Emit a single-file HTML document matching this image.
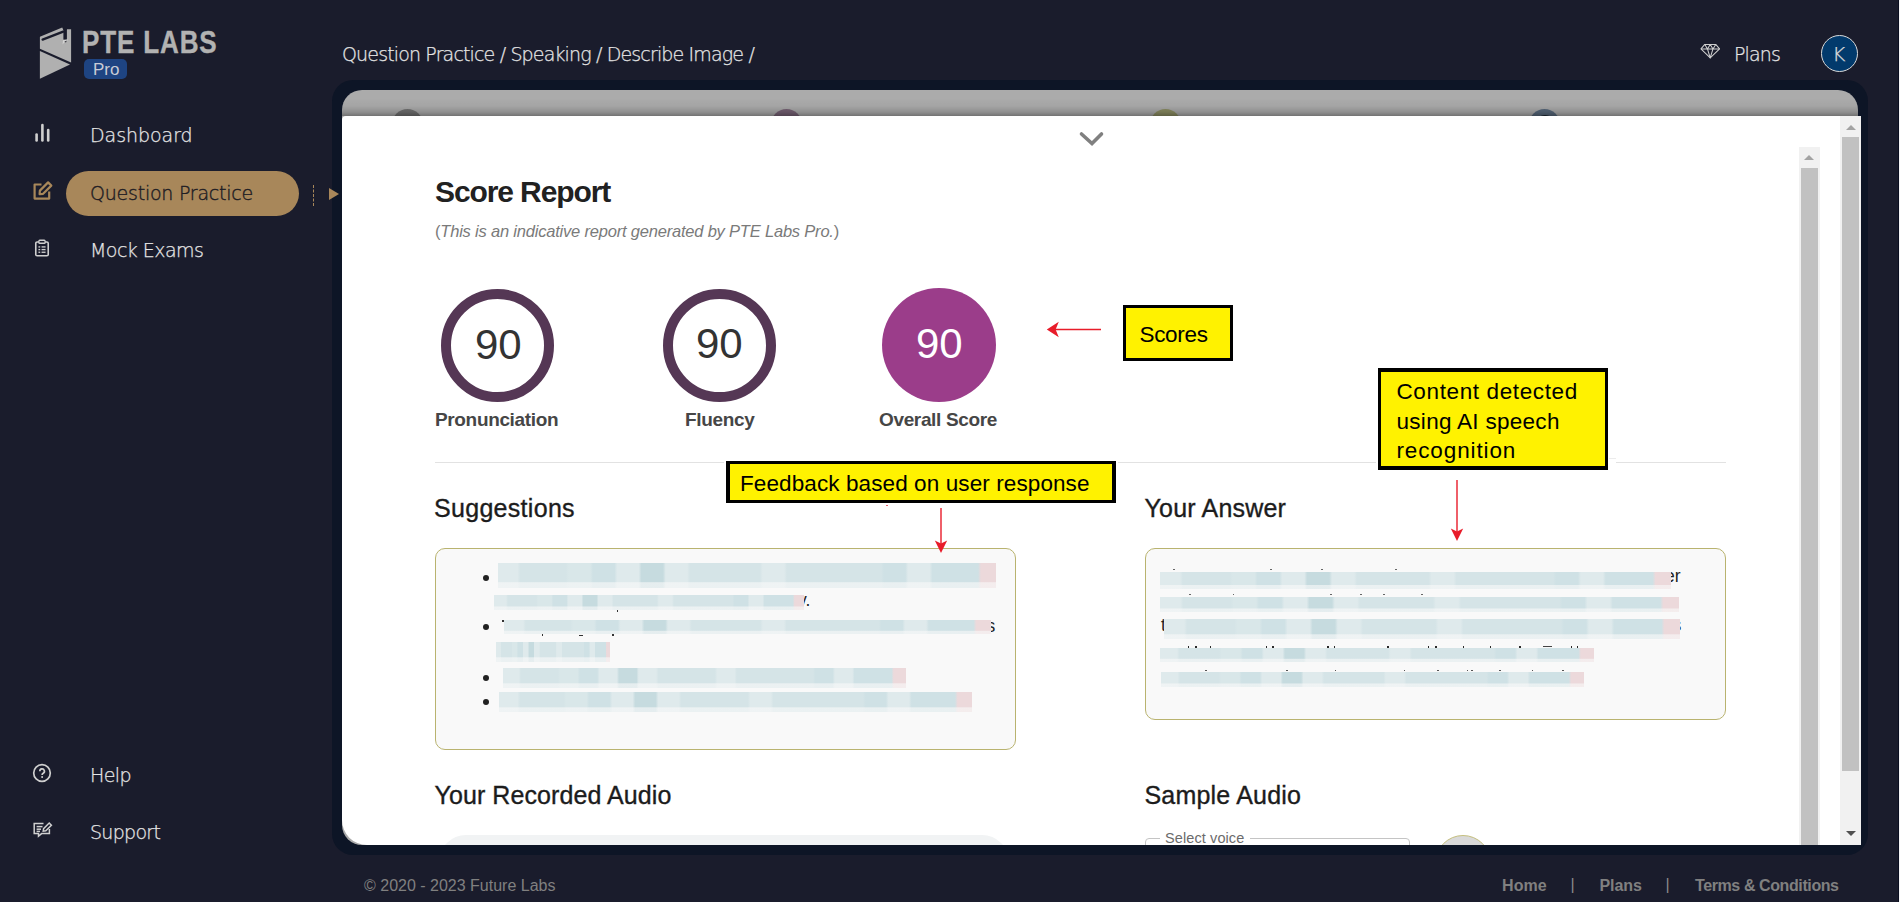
<!DOCTYPE html>
<html lang="en">
<head>
<meta charset="utf-8">
<title>PTE Labs Pro - Score Report</title>
<style>
*{box-sizing:border-box;margin:0;padding:0}
html,body{width:1900px;height:902px;overflow:hidden;background:#1a1c2c}
body{position:relative;font-family:"Liberation Sans",sans-serif;color:#222}
.abs{position:absolute}
.t{position:absolute;white-space:nowrap;line-height:1}
.nav{font-family:"DejaVu Sans","Liberation Sans",sans-serif;font-weight:200;color:#e6e6e6;font-size:19px;-webkit-text-stroke:.25px #e6e6e6}
.frame{left:332px;top:80px;width:1536px;height:775px;background:#0d1526;border-radius:21px}
.gray{left:342px;top:90px;width:1516px;height:755px;background:#ababab;border-radius:20px;overflow:hidden}
.shade{left:0;top:8px;width:1516px;height:18px;background:linear-gradient(to bottom,rgba(0,0,0,0) 0,rgba(0,0,0,.04) 8px,rgba(0,0,0,.16) 14px,rgba(0,0,0,.33) 18px)}
.dot{width:31px;height:31px;border-radius:50%;top:19px;margin-left:-.5px}
.modal{left:342px;top:116px;width:1519px;height:729px;background:#fff;border-radius:4px 0 0 25px;overflow:hidden}
.h2{font-family:"Liberation Sans",sans-serif;font-weight:500;color:#1c1c1c;font-size:25px;-webkit-text-stroke:.35px #1c1c1c}
.lbl{font-weight:bold;color:#464646;font-size:19px;letter-spacing:-.35px}
.ybox{background:#fff200;border:3px solid #000;outline:2px solid #fff}
.ytxt{font-family:"Liberation Sans",sans-serif;color:#000;font-size:22.5px}
.card{background:#f9f9f9;border:1px solid #b9b36f;border-radius:10px}
.bar{position:absolute;background:linear-gradient(to bottom,rgba(249,249,249,0) 0,rgba(249,249,249,0) 74%,rgba(249,249,249,.62) 79%,rgba(249,249,249,.62) 100%),linear-gradient(to right,#dfeaec 0.00%,#dfeaec 3.91%,#d5e4e7 4.47%,#d5e4e7 8.78%,#d5e4e7 9.34%,#d5e4e7 13.64%,#d9e7e9 14.20%,#d9e7e9 18.51%,#cfe1e5 19.07%,#cfe1e5 23.38%,#dfeaec 23.94%,#dfeaec 28.25%,#c6dbdf 28.81%,#c6dbdf 33.12%,#dfeaec 33.68%,#dfeaec 37.99%,#d5e4e7 38.55%,#d5e4e7 42.86%,#d5e4e7 43.42%,#d5e4e7 47.72%,#d5e4e7 48.28%,#d5e4e7 52.59%,#dfeaec 53.15%,#dfeaec 57.46%,#d5e4e7 58.02%,#d5e4e7 62.33%,#d5e4e7 62.89%,#d5e4e7 67.20%,#d5e4e7 67.76%,#d5e4e7 72.07%,#d5e4e7 72.63%,#d5e4e7 76.94%,#cfe1e5 77.50%,#cfe1e5 81.80%,#dfeaec 82.36%,#dfeaec 86.67%,#cfe1e5 87.23%,#cfe1e5 91.54%,#cfe1e5 92.10%,#cfe1e5 96.41%,#ecd9db 96.97%,#ecd9db 100.00%)}
.frag{font-size:17.5px;color:#222}
.tk{position:absolute;display:block}
.sb{background:#f1f1f1}
.th{background:#c1c1c1}
</style>
</head>
<body>

<!-- SIDEBAR -->
<div id="sidebar">
  <svg class="abs" style="left:38px;top:26px" width="36" height="56" viewBox="0 0 36 56">
    <polygon points="1.9,10.7 24.2,1.6 25.4,4 28.9,4 28.9,3.3 33.1,3.3 33.1,36.4 1.9,22.7" fill="#b0b0b0"/>
    <line x1="4.6" y1="13.6" x2="25.2" y2="5.6" stroke="#1a1c2c" stroke-width="2.3" stroke-linecap="round"/>
    <rect x="25.4" y="3.2" width="3.5" height="10.4" fill="#1a1c2c"/>
    <path d="M25 14.2l4.8 -.6 -1.6 3.2 -1.2 -1.4 -2.4 3z" fill="#d4d4d4"/>
    <path d="M26.4 15.4l2.6 -.9 -1 2.2z" fill="#3a3a40"/>
    <polygon points="1.9,25 32,38.6 1.9,52.7" fill="#b0b0b0"/>
  </svg>
  <div class="t" id="brand" style="left:82.4px;top:26.7px;font-weight:bold;font-size:31px;color:#b2b2b2;letter-spacing:1px;-webkit-text-stroke:.4px #b2b2b2;transform-origin:0 0;transform:scaleX(.84)">PTE LABS</div>
  <div class="abs" style="left:84px;top:59px;width:43px;height:20px;background:#1e4482;border-radius:5px"></div>
  <div class="t" id="pro" style="left:93px;top:60.8px;font-size:17px;color:#c9ccd6">Pro</div>

  <svg class="abs" style="left:34px;top:122px" width="18" height="22" viewBox="0 0 18 22"><g stroke="#cfcfcf" stroke-width="2.6" stroke-linecap="round"><line x1="2.6" y1="12.5" x2="2.6" y2="18.5"/><line x1="8.4" y1="3" x2="8.4" y2="18.5"/><line x1="14.2" y1="8" x2="14.2" y2="18.5"/></g></svg>
  <div class="t nav" id="n1" style="letter-spacing:-0.05px;left:90px;top:126px">Dashboard</div>

  <div class="abs" style="left:66px;top:171px;width:233px;height:45px;border-radius:23px;background:#a8875a"></div>
  <svg class="abs" style="left:32px;top:180px" width="22" height="22" viewBox="0 0 22 22" fill="none" stroke="#a8875a" stroke-width="2.2" stroke-linejoin="round"><path d="M9.5 4.5H2.6V18.6H17.2V11.5"/><path d="M7.6 14.2l0.3-3.6 8.2-8.2 3.2 3.2-8.2 8.2z"/></svg>
  <div class="t nav" id="n2" style="letter-spacing:-0.23px;left:90px;top:184px;color:#1f1d24;-webkit-text-stroke:.4px #1f1d24">Question Practice</div>
  <div class="abs" style="left:313px;top:185px;width:0;height:21px;border-left:1px dashed #a8875a"></div>

  <svg class="abs" style="left:34px;top:238.5px" width="16" height="18.5" viewBox="0 0 18 20" fill="none" stroke="#cfcfcf"><rect x="2" y="3" width="14" height="15.5" rx="1.5" stroke-width="1.8"/><rect x="5.5" y="1" width="7" height="3.4" rx="1" stroke-width="1.5" fill="#1a1c2c"/><g stroke-width="1.5"><line x1="5" y1="8.5" x2="7" y2="8.5"/><line x1="8.5" y1="8.5" x2="13" y2="8.5"/><line x1="5" y1="11.5" x2="7" y2="11.5"/><line x1="8.5" y1="11.5" x2="13" y2="11.5"/><line x1="5" y1="14.5" x2="7" y2="14.5"/><line x1="8.5" y1="14.5" x2="13" y2="14.5"/></g></svg>
  <div class="t nav" id="n3" style="letter-spacing:-0.55px;left:90px;top:241px">Mock Exams</div>

  <svg class="abs" style="left:32px;top:763px" width="20" height="20" viewBox="0 0 20 20" fill="none" stroke="#cfcfcf"><circle cx="10" cy="10" r="8.3" stroke-width="1.7"/><path d="M7.8 8.2a2.3 2.3 0 1 1 3.4 2c-.8.5-1.1.9-1.1 1.7" stroke-width="1.7"/><circle cx="10.1" cy="14" r="1" fill="#cfcfcf" stroke="none"/></svg>
  <div class="t nav" id="n4" style="letter-spacing:-0.6px;left:90px;top:766px">Help</div>

  <svg class="abs" style="left:32px;top:820px" width="22" height="20" viewBox="0 0 22 20" fill="none" stroke="#cfcfcf" stroke-width="1.5"><path d="M11.5 3.5H2.2V13.6H6.5V16.2L9.6 13.6H17.4V9"/><line x1="4.6" y1="6.6" x2="10.5" y2="6.6"/><line x1="4.6" y1="9.2" x2="9" y2="9.2"/><line x1="4.6" y1="11.4" x2="8" y2="11.4"/><path d="M11.2 11.2l.4-2.6 5.6-5.6 2.2 2.2-5.6 5.6z"/></svg>
  <div class="t nav" id="n5" style="letter-spacing:-0.7px;left:90px;top:823px">Support</div>
</div>

<!-- TOP BAR -->
<div class="t nav" id="crumb" style="letter-spacing:-0.85px;left:342px;top:45.2px">Question Practice / Speaking / Describe Image /</div>
<svg class="abs" style="left:1699.5px;top:43.2px" width="21" height="16.2" viewBox="0 0 22 17" fill="none" stroke="#cfcfcf" stroke-width="1.1" stroke-linejoin="round"><path d="M5 1.5H16.5L20.5 6.2 10.7 15.6 1 6.2z"/><path d="M1 6.2H20.5M5 1.5l2.8 4.7 2.9-4.7 2.9 4.7 2.9-4.7M7.8 6.2l2.9 9.4 2.9-9.4"/></svg>
<div class="t nav" id="plans" style="letter-spacing:-0.85px;left:1734px;top:45px">Plans</div>
<div class="abs" style="left:1821px;top:35px;width:37px;height:37px;border-radius:50%;background:#023a6c;border:1px solid #d9d9d9"></div>
<div class="t nav" id="avk" style="left:1832.2px;top:43.6px;font-size:20px;color:#d8d8d8">K</div>

<!-- FRAME -->
<div class="abs frame"></div>
<div class="abs gray">
  <div class="abs dot" style="left:50.8px;background:#727272"></div>
  <div class="abs dot" style="left:429.5px;background:#786376"></div>
  <div class="abs dot" style="left:808.4px;background:#8c8e63"></div>
  <div class="abs dot" style="left:1187.5px;background:#58697c"></div>
  <div class="abs" style="left:1198.5px;top:24.5px;width:8px;height:3px;border-radius:50%;background:#1c2630"></div>
  <div class="abs shade"></div>
</div>

<div class="abs" style="left:329px;top:188px;width:0;height:0;border-left:10px solid #a8875a;border-top:6px solid transparent;border-bottom:6px solid transparent"></div>

<!-- MODAL (coordinates relative to modal: page x-342, y-116) -->
<div class="abs modal">
  <svg class="abs" style="left:735px;top:13px" width="30" height="20" viewBox="0 0 30 20" fill="none"><path d="M4.5 5L15 14.5 24.5 5" stroke="#808080" stroke-width="3.6" stroke-linecap="round" stroke-linejoin="miter"/></svg>

  <div class="t" id="title" style="left:93px;top:60.7px;font-weight:bold;font-size:30px;color:#212121;letter-spacing:-1.1px">Score Report</div>
  <div class="t" id="sub" style="left:93px;top:107px;font-size:16.5px;color:#7a7a7a;letter-spacing:-.2px"><span style="font-style:normal">(</span><i>This is an indicative report generated by PTE Labs Pro.</i>)</div>

  <!-- score circles -->
  <div class="abs" style="left:99px;top:173px;width:113px;height:113px;border-radius:50%;border:10px solid #553755"></div>
  <div class="t" id="s1" style="left:133px;top:208px;font-size:42px;color:#333">90</div>
  <div class="abs" style="left:321px;top:173px;width:113px;height:113px;border-radius:50%;border:10px solid #553755"></div>
  <div class="t" id="s2" style="left:354px;top:207px;font-size:42px;color:#333">90</div>
  <div class="abs" style="left:540px;top:172px;width:114px;height:114px;border-radius:50%;background:#9b3d8a"></div>
  <div class="t" id="s3" style="left:574px;top:207px;font-size:42px;color:#fff">90</div>
  <div class="t lbl" id="l1" style="left:93px;top:294px">Pronunciation</div>
  <div class="t lbl" id="l2" style="left:343px;top:294px">Fluency</div>
  <div class="t lbl" id="l3" style="left:537px;top:294px">Overall Score</div>

  <!-- Scores annotation -->
  <svg class="abs" style="left:700px;top:203px" width="64" height="22" viewBox="0 0 64 22"><line x1="8" y1="10.5" x2="59" y2="10.5" stroke="#e81c2a" stroke-width="1.5"/><path d="M4.8 10.5L16.8 2.8 13.6 10.5 16.8 18.2z" fill="#e81c2a"/></svg>
  <div class="abs ybox" style="left:781px;top:189px;width:110px;height:55.7px;outline:none"></div>
  <div class="t ytxt" id="y1" style="left:797.5px;top:208px;letter-spacing:-.33px">Scores</div>

  <!-- hr -->
  <div class="abs" style="left:93px;top:346px;width:1291px;height:1px;background:#e2e2e2"></div>

  <!-- Content detected annotation -->
  <div class="abs" style="left:1034px;top:344px;width:240px;height:5px;background:#fff"></div>
  <div class="abs" style="left:1267px;top:342px;width:7px;height:1px;background:#ececec"></div>
  <div class="abs ybox" style="left:1036px;top:252.3px;width:230px;height:101.5px;border-width:4px 3px;outline:none"></div>
  <div class="t ytxt" id="y2a" style="left:1054.5px;top:264.5px;letter-spacing:.62px">Content detected</div>
  <div class="t ytxt" id="y2b" style="left:1054.5px;top:294.5px;letter-spacing:.29px">using AI speech</div>
  <div class="t ytxt" id="y2c" style="left:1054.5px;top:324px;letter-spacing:.87px">recognition</div>
  <svg class="abs" style="left:1104px;top:362px" width="22" height="66" viewBox="0 0 22 66"><line x1="11" y1="2" x2="11" y2="58" stroke="#e81c2a" stroke-width="1.4"/><path d="M11 63L4.8 50.5 11 53.5 17.2 50.5z" fill="#e81c2a"/></svg>

  <!-- Feedback annotation -->
  <div class="abs ybox" style="left:384.3px;top:345px;width:389.6px;height:42px;border-width:3px 4px"></div>
  <div class="t ytxt" id="y3" style="left:398px;top:356.5px;letter-spacing:.1px">Feedback based on user response</div>

  <div class="t h2" id="h1" style="left:92px;top:380px;letter-spacing:.3px">Suggestions</div>
  <div class="t h2" id="h2" style="left:802.5px;top:380px;letter-spacing:.2px">Your Answer</div>

  <!-- Suggestions card -->
  <div class="abs card" style="left:93px;top:432px;width:581px;height:202px"></div>
  <!-- Answer card -->
  <div class="abs card" style="left:803px;top:432px;width:581px;height:172px"></div>
  <div class="abs" style="left:140.6px;top:458.7px;width:6px;height:6px;border-radius:50%;background:#222"></div>
  <div class="abs" style="left:140.6px;top:508.3px;width:6px;height:6px;border-radius:50%;background:#222"></div>
  <div class="abs" style="left:140.6px;top:558.5px;width:6px;height:6px;border-radius:50%;background:#222"></div>
  <div class="abs" style="left:140.6px;top:583.3px;width:6px;height:6px;border-radius:50%;background:#222"></div>
  <div class="t frag" style="left:456px;top:476.4px">y.</div>
  <div class="t frag" style="left:644.5px;top:501.7px">s</div>
  <div class="t frag" style="left:1323px;top:451.8px">er</div>
  <div class="t frag" style="left:1330.5px;top:501.2px">s</div>
  <div class="t frag" style="left:819px;top:501.2px">t</div>
  <div class="bar" style="left:156px;top:447px;width:498px;height:25px"></div>
  <div class="bar" style="left:152px;top:478.5px;width:310px;height:15.5px"></div>
  <div class="bar" style="left:162px;top:504px;width:487px;height:14px"></div>
  <div class="bar" style="left:154px;top:525.5px;width:114px;height:20px"></div>
  <div class="bar" style="left:161px;top:552px;width:403px;height:20px"></div>
  <div class="bar" style="left:157px;top:575.5px;width:473px;height:20.5px"></div>
  <div class="bar" style="left:818px;top:455.5px;width:511px;height:17px"></div>
  <div class="bar" style="left:818px;top:480.5px;width:519px;height:15.5px"></div>
  <div class="bar" style="left:822px;top:502.5px;width:516px;height:20px"></div>
  <div class="bar" style="left:818px;top:532px;width:434px;height:14px"></div>
  <div class="bar" style="left:819px;top:555.5px;width:423px;height:15.5px"></div>

  <!-- letter tips peeking above the redaction bars -->
  <i class="tk" style="left:845.6px;top:529.6px;width:1.5px;height:2.6px;background:#2a2a2a"></i><i class="tk" style="left:853.3px;top:529.6px;width:1.5px;height:2.6px;background:#2a2a2a"></i><i class="tk" style="left:867.8px;top:529.6px;width:1.5px;height:2.6px;background:#2a2a2a"></i><i class="tk" style="left:923.5px;top:529.6px;width:1.5px;height:2.6px;background:#2a2a2a"></i><i class="tk" style="left:930.3px;top:529.6px;width:1.5px;height:2.6px;background:#2a2a2a"></i><i class="tk" style="left:985.3px;top:529.6px;width:1.5px;height:2.6px;background:#2a2a2a"></i><i class="tk" style="left:991.8px;top:529.6px;width:1.5px;height:2.6px;background:#2a2a2a"></i><i class="tk" style="left:1045.1px;top:529.6px;width:1.5px;height:2.6px;background:#2a2a2a"></i><i class="tk" style="left:1085.8px;top:529.6px;width:1.5px;height:2.6px;background:#2a2a2a"></i><i class="tk" style="left:1093px;top:529.6px;width:1.5px;height:2.6px;background:#2a2a2a"></i><i class="tk" style="left:1120.9px;top:529.6px;width:1.5px;height:2.6px;background:#2a2a2a"></i><i class="tk" style="left:1147.5px;top:529.6px;width:1.5px;height:2.6px;background:#2a2a2a"></i><i class="tk" style="left:1177.3px;top:529.6px;width:1.5px;height:2.6px;background:#2a2a2a"></i><i class="tk" style="left:1228.6px;top:529.6px;width:1.5px;height:2.6px;background:#2a2a2a"></i><i class="tk" style="left:1234.7px;top:529.6px;width:1.5px;height:2.6px;background:#2a2a2a"></i><i class="tk" style="left:1201px;top:529.6px;width:9px;height:1.6px;background:#444"></i><i class="tk" style="left:863px;top:553.6px;width:1.6px;height:1.2px;background:#555"></i><i class="tk" style="left:944.1px;top:553.6px;width:1.6px;height:1.2px;background:#555"></i><i class="tk" style="left:992.5px;top:553.6px;width:1.6px;height:1.2px;background:#555"></i><i class="tk" style="left:1061.5px;top:553.6px;width:1.6px;height:1.2px;background:#555"></i><i class="tk" style="left:1095.4px;top:553.6px;width:1.6px;height:1.2px;background:#555"></i><i class="tk" style="left:1124.5px;top:553.6px;width:1.6px;height:1.2px;background:#555"></i><i class="tk" style="left:1129.3px;top:553.6px;width:1.6px;height:1.2px;background:#555"></i><i class="tk" style="left:1157.2px;top:553.6px;width:1.6px;height:1.2px;background:#555"></i><i class="tk" style="left:1189.9px;top:553.6px;width:1.6px;height:1.2px;background:#555"></i><i class="tk" style="left:1220.1px;top:553.6px;width:1.6px;height:1.2px;background:#555"></i><i class="tk" style="left:831px;top:453.3px;width:1.8px;height:1px;background:#666"></i><i class="tk" style="left:928.1px;top:453.3px;width:1.8px;height:1px;background:#666"></i><i class="tk" style="left:979.3px;top:453.3px;width:1.8px;height:1px;background:#666"></i><i class="tk" style="left:1052.8px;top:453.3px;width:1.8px;height:1px;background:#666"></i><i class="tk" style="left:847.1px;top:478.2px;width:1.8px;height:1px;background:#666"></i><i class="tk" style="left:890.5px;top:478.2px;width:1.8px;height:1px;background:#666"></i><i class="tk" style="left:988.3px;top:478.2px;width:1.8px;height:1px;background:#666"></i><i class="tk" style="left:1018.1px;top:478.2px;width:1.8px;height:1px;background:#666"></i><i class="tk" style="left:1041px;top:478.2px;width:1.8px;height:1px;background:#666"></i><i class="tk" style="left:1079.3px;top:478.2px;width:1.8px;height:1px;background:#666"></i><i class="tk" style="left:274.9px;top:493.6px;width:1.5px;height:2px;background:#333"></i><i class="tk" style="left:160.1px;top:503.8px;width:1.5px;height:2px;background:#333"></i><i class="tk" style="left:199.9px;top:518.2px;width:1.5px;height:2px;background:#333"></i><i class="tk" style="left:270.2px;top:518.2px;width:1.5px;height:2px;background:#333"></i><i class="tk" style="left:237px;top:518.7px;width:3.5px;height:1.5px;background:#333"></i>
  <div class="abs" style="left:544px;top:388.6px;width:1.6px;height:1.6px;background:#e8606a"></div>
  <svg class="abs" style="left:588px;top:390px" width="22" height="50" viewBox="0 0 22 50"><line x1="11" y1="2" x2="11" y2="40" stroke="#e81c2a" stroke-width="1.4"/><path d="M11 47L4.8 34.5 11 37.5 17.2 34.5z" fill="#e81c2a"/></svg>
  <div class="t h2" id="h3" style="left:92.5px;top:667px;letter-spacing:.08px">Your Recorded Audio</div>
  <div class="t h2" id="h4" style="left:802.5px;top:667px;letter-spacing:.2px">Sample Audio</div>

  <div class="abs" style="left:97px;top:718.7px;width:570px;height:54px;border-radius:27px;background:#f1f3f4"></div>
  <div class="abs" style="left:803px;top:722px;width:265px;height:40px;border:1px solid #c4c4c4;border-radius:4px"></div>
  <div class="abs" style="left:818px;top:712px;width:90px;height:20px;background:#fff"></div>
  <div class="t" id="sv" style="left:823px;top:714.5px;font-size:14.5px;color:#6b6b6b;letter-spacing:.1px">Select voice</div>
  <div class="abs" style="left:1093px;top:718.8px;width:56px;height:56px;border-radius:50%;background:#d9d9d9;border:1px solid #c5bf7e"></div>

  <!-- inner scrollbar -->
  <div class="abs sb" style="left:1457px;top:31px;width:21px;height:700px"></div>
  <div class="abs th" style="left:1459px;top:52px;width:17px;height:680px"></div>
  <div class="abs" style="left:1462px;top:39px;width:0;height:0;border-bottom:5px solid #a3a3a3;border-left:5px solid transparent;border-right:5px solid transparent"></div>
  <!-- outer scrollbar -->
  <div class="abs sb" style="left:1498px;top:0;width:21px;height:729px"></div>
  <div class="abs th" style="left:1500px;top:21px;width:17px;height:634px"></div>
  <div class="abs" style="left:1503.5px;top:9px;width:0;height:0;border-bottom:5px solid #a3a3a3;border-left:5px solid transparent;border-right:5px solid transparent"></div>
  <div class="abs" style="left:1503.5px;top:715px;width:0;height:0;border-top:5px solid #505050;border-left:5px solid transparent;border-right:5px solid transparent"></div>
</div>

<!-- FOOTER -->
<div class="t" id="copy" style="left:364px;top:877.5px;font-size:16px;color:#808080">© 2020 - 2023 Future Labs</div>
<div class="t" id="f1" style="left:1502px;top:877.5px;font-size:16px;font-weight:bold;color:#808080;letter-spacing:.1px">Home</div>
<div class="t" id="fs1" style="left:1570.5px;top:876.5px;font-size:16px;color:#8a8a8a">|</div>
<div class="t" id="f2" style="left:1599.5px;top:877.5px;font-size:16px;font-weight:bold;color:#808080;letter-spacing:-.1px">Plans</div>
<div class="t" id="fs2" style="left:1665.5px;top:876.5px;font-size:16px;color:#8a8a8a">|</div>
<div class="t" id="f3" style="left:1695px;top:877.5px;font-size:16px;font-weight:bold;color:#808080;letter-spacing:-.4px">Terms &amp; Conditions</div>

<div class="abs" style="left:1898px;top:0;width:1px;height:902px;background:#0a0e20"></div>
<div class="abs" style="left:1899px;top:0;width:1px;height:902px;background:#f4f4f6"></div>
</body>
</html>
